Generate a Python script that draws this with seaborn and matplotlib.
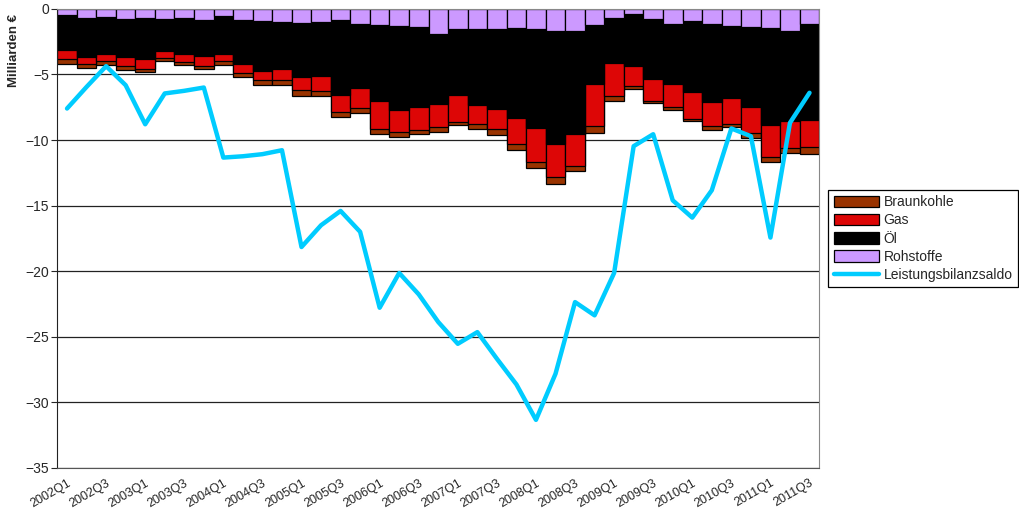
import numpy as np
import matplotlib
matplotlib.use("Agg")
import matplotlib.pyplot as plt
import seaborn as sns

# Quarters 2002Q1 .. 2011Q3
quarters = [f"{y}Q{q}" for y in range(2002, 2012) for q in range(1, 5)][:39]

# Segment sizes (Milliarden €, negative = import)
rohstoffe = [0.46, 0.68, 0.64, 0.76, 0.71, 0.76, 0.68, 0.83, 0.51, 0.83,
             0.89, 1.01, 1.06, 1.01, 0.83, 1.14, 1.21, 1.31, 1.42, 1.92,
             1.52, 1.52, 1.57, 1.46, 1.52, 1.72, 1.72, 1.26, 0.68, 0.38,
             0.76, 1.19, 0.89, 1.14, 1.34, 1.39, 1.46, 1.67, 1.14]
oel = [2.70, 2.99, 2.77, 2.91, 3.15, 2.47, 2.73, 2.78, 2.90, 3.39,
       3.84, 3.59, 4.12, 4.12, 5.71, 4.87, 5.81, 6.44, 6.03, 5.33,
       5.02, 5.81, 6.06, 6.85, 7.60, 8.58, 7.83, 4.47, 3.44, 3.97,
       4.62, 4.54, 5.42, 5.96, 5.48, 6.06, 7.43, 6.86, 7.31]
gas = [0.70, 0.50, 0.59, 0.70, 0.74, 0.48, 0.63, 0.74, 0.59, 0.70,
       0.70, 0.83, 1.01, 1.14, 1.34, 1.57, 2.15, 1.62, 1.77, 1.79,
       2.05, 1.46, 1.54, 1.99, 2.58, 2.53, 2.45, 3.24, 2.50, 1.54,
       1.62, 1.72, 2.07, 1.87, 1.95, 2.02, 2.42, 2.08, 2.08]
braunkohle = [0.31, 0.33, 0.25, 0.30, 0.20, 0.29, 0.26, 0.25, 0.25, 0.31,
              0.38, 0.38, 0.43, 0.35, 0.38, 0.37, 0.38, 0.38, 0.33, 0.38,
              0.30, 0.38, 0.43, 0.48, 0.42, 0.50, 0.38, 0.50, 0.40, 0.25,
              0.20, 0.30, 0.20, 0.25, 0.27, 0.37, 0.38, 0.37, 0.52]
saldo = [-7.6, -5.95, -4.37, -5.82, -8.8, -6.45, -6.25, -6.0, -11.34, -11.24,
         -11.08, -10.78, -18.16, -16.5, -15.41, -17.0, -22.79, -20.14, -21.77, -23.88,
         -25.54, -24.65, -26.68, -28.64, -31.34, -27.83, -22.36, -23.37, -20.14, -10.47,
         -9.56, -14.6, -15.92, -13.83, -9.12, -9.71, -17.44, -8.69, -6.4]

sns.set_style("white")
plt.rcParams["font.family"] = ["Liberation Sans", "DejaVu Sans"]

fig = plt.figure(figsize=(10.19, 5.21), dpi=100)
ax = fig.add_axes([0.0562, 0.102, 0.7478, 0.881])

c_roh = -np.array(rohstoffe)
c_oel = c_roh - np.array(oel)
c_gas = c_oel - np.array(gas)
c_bk = c_gas - np.array(braunkohle)

series = [("Braunkohle", c_bk, "#993300"),
          ("Gas", c_gas, "#dd0606"),
          ("Öl", c_oel, "#000000"),
          ("Rohstoffe", c_roh, "#cc99ff")]

# overlay cumulative bars, deepest first
for name, vals, col in series:
    sns.barplot(x=quarters, y=vals, color=col, width=1.0, edgecolor="black",
                linewidth=0.9, saturation=1, label=name, ax=ax, zorder=2)

sns.lineplot(x=np.arange(len(saldo)), y=saldo, color="#00ccff", linewidth=3.2,
             sort=False, label="Leistungsbilanzsaldo", ax=ax, zorder=3)

ax.set_ylim(-35, 0)
ax.set_xlim(-0.5, len(quarters) - 0.5)
ax.set_yticks(range(-35, 1, 5))
ax.yaxis.grid(True, color="#222222", linewidth=0.9, zorder=0)
ax.set_axisbelow(True)
ax.set_xticks(range(0, len(quarters), 2))
ax.set_xticklabels(quarters[::2], rotation=30, ha="right", rotation_mode="anchor",
                   fontsize=9)
ax.tick_params(axis="y", labelsize=10, left=True, length=4, width=0.8, pad=2)
ax.tick_params(axis="x", bottom=False, pad=3)
for s in ["top", "right"]:
    ax.spines[s].set_color("#888888")
ax.spines["left"].set_color("#222222")
ax.spines["bottom"].set_color("#555555")
ax.set_xlabel("")
ax.set_ylabel("Milliarden €", fontweight="bold", fontsize=9.5)
ax.yaxis.set_label_coords(-0.049, 0.91)

handles, labels = ax.get_legend_handles_labels()
order = [labels.index(n) for n in
         ["Braunkohle", "Gas", "Öl", "Rohstoffe", "Leistungsbilanzsaldo"]]
leg = ax.legend([handles[i] for i in order], [labels[i] for i in order],
                loc="upper left",
                bbox_to_anchor=(0.8126, 0.636), bbox_transform=fig.transFigure,
                borderaxespad=0, fancybox=False, edgecolor="black", framealpha=1,
                fontsize=10, handlelength=3.3, handleheight=0.9, labelspacing=0.3,
                handletextpad=0.3, borderpad=0.4)
leg.get_frame().set_linewidth(0.9)

fig.savefig("out.png", dpi=100)
